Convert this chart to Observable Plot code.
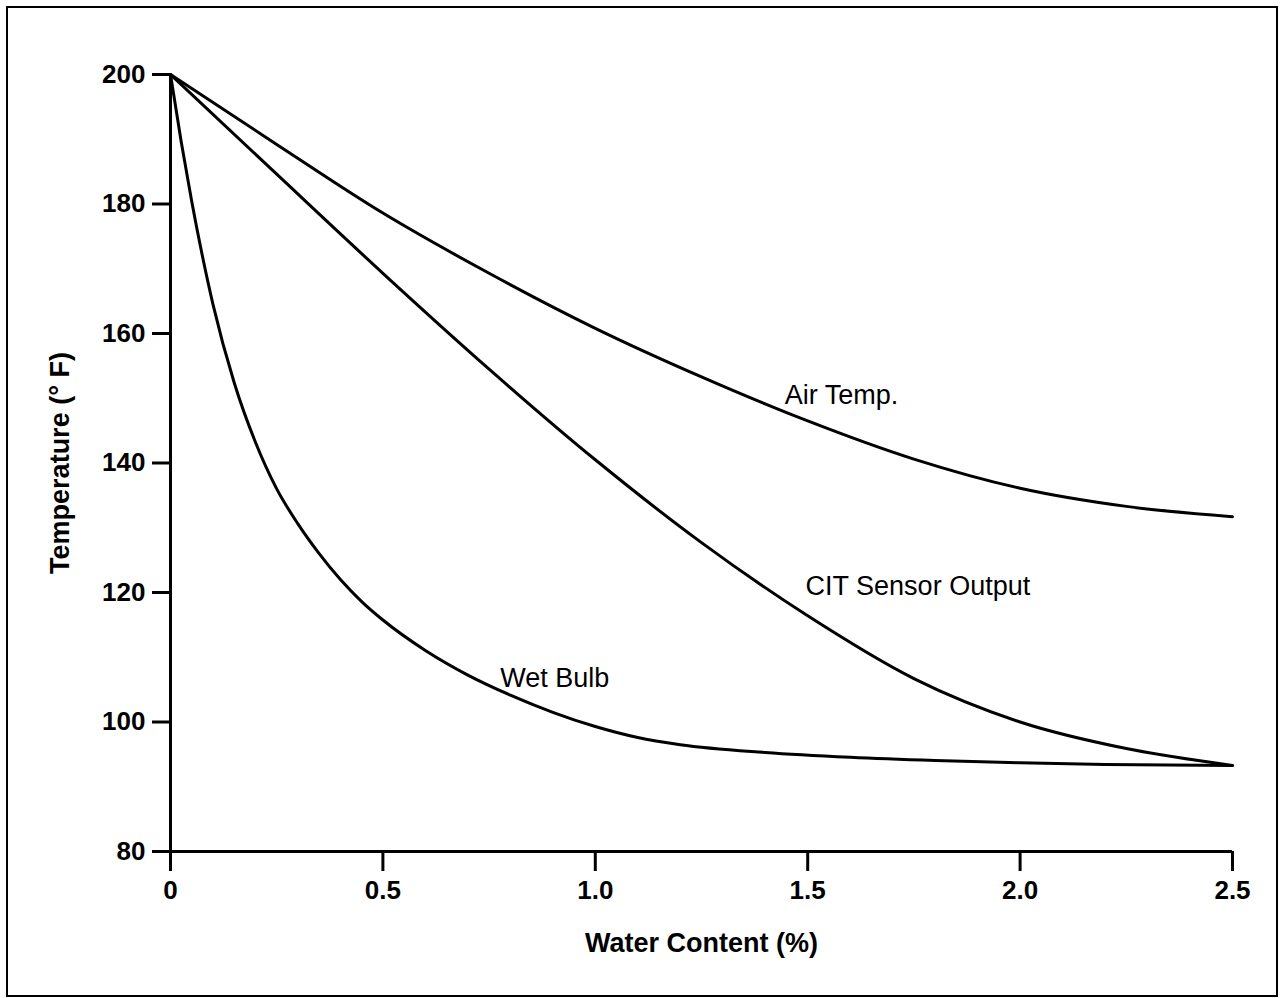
<!DOCTYPE html>
<html>
<head>
<meta charset="utf-8">
<script src="https://cdn.jsdelivr.net/npm/d3@7"></script>
<script src="https://cdn.jsdelivr.net/npm/@observablehq/plot@0.6"></script>
<style>
  html, body { margin: 0; padding: 0; background: #fff; }
  #wrap { position: relative; width: 1280px; height: 998px; overflow: hidden; }
  #border { position: absolute; left: 6px; top: 6px; width: 1268px; height: 987px; border: 2px solid #000; pointer-events: none; }
  svg { display: block; }
</style>
</head>
<body>
<div id="wrap"><div id="border"></div></div>
<script>
// Tick values / labels
const xTicks = [0, 0.5, 1.0, 1.5, 2.0, 2.5];
const xTickLabels = ["0", "0.5", "1.0", "1.5", "2.0", "2.5"];
const yTicks = [80, 100, 120, 140, 160, 180, 200];

// Air Temp.
const airWater = [0, 0.25, 0.5, 0.75, 1.0, 1.25, 1.5, 1.75, 2.0, 2.25, 2.5];
const airTemp  = [200, 189.2, 178.6, 169.3, 160.8, 153.3, 146.5, 140.6, 136.1, 133.3, 131.7];

// CIT Sensor Output
const citWater = [0, 0.25, 0.5, 0.75, 1.0, 1.25, 1.5, 1.75, 2.0, 2.25, 2.5];
const citTemp  = [200, 184.6, 169.3, 154.5, 140.5, 127.7, 116.4, 106.7, 100.0, 95.9, 93.3];

// Wet Bulb
const wetWater = [0, 0.025, 0.05, 0.075, 0.1, 0.15, 0.2, 0.25, 0.3, 0.35, 0.4, 0.45, 0.5, 0.6, 0.7, 0.8, 0.9, 1.0, 1.1, 1.2, 1.4, 1.6, 1.8, 2.0, 2.2, 2.5];
const wetTemp  = [200, 189.7, 180.4, 172.0, 164.5, 152.4, 143.2, 136.0, 130.6, 126.0, 122.0, 118.6, 115.75, 111.05, 107.25, 104.15, 101.5, 99.3, 97.6, 96.5, 95.3, 94.55, 94.05, 93.7, 93.45, 93.3];

// Curve labels
const labelNames = ["Air Temp.", "CIT Sensor Output", "Wet Bulb"];
const labelWater = [1.446, 1.495, 0.776];
const labelTemp  = [150.4, 120.9, 106.8];

const xTitle = "Water Content (%)";
const yTitle = "Temperature (° F)";

const series = [
  {name: "Air Temp.", xs: airWater, ys: airTemp},
  {name: "CIT Sensor Output", xs: citWater, ys: citTemp},
  {name: "Wet Bulb", xs: wetWater, ys: wetTemp}
];
const lineData = series.flatMap(s => s.xs.map((x, i) => ({series: s.name, water: x, temp: s.ys[i]})));
const labelData = labelNames.map((n, i) => ({name: n, water: labelWater[i], temp: labelTemp[i]}));

const FONT = "'Liberation Sans', Arial, Helvetica, sans-serif";

const chart = Plot.plot({
  width: 1280,
  height: 998,
  marginLeft: 170,
  marginRight: 48,
  marginTop: 74,
  marginBottom: 147,
  style: {fontFamily: FONT, background: "transparent", color: "#000"},
  x: {domain: [0, 2.5]},
  y: {domain: [80, 200]},
  marks: [
    Plot.axisX({
      ticks: xTicks,
      tickFormat: d => xTickLabels[xTicks.indexOf(d)],
      tickSize: 20,
      tickPadding: 9,
      strokeWidth: 3,
      fontSize: 26,
      fontWeight: "bold",
      label: null
    }),
    Plot.axisY({
      ticks: yTicks,
      tickSize: 18,
      tickPadding: 7,
      strokeWidth: 3,
      fontSize: 26,
      fontWeight: "bold",
      label: null
    }),
    Plot.ruleY([80], {stroke: "#000", strokeWidth: 3}),
    Plot.ruleX([0], {stroke: "#000", strokeWidth: 3}),
    Plot.line(lineData, {x: "water", y: "temp", z: "series", stroke: "#000", strokeWidth: 3, curve: "monotone-x"}),
    Plot.text(labelData, {x: "water", y: "temp", text: "name", textAnchor: "start", fontSize: 27, fill: "#000"}),
    Plot.text([xTitle], {frameAnchor: "bottom", lineAnchor: "middle", textAnchor: "middle", dy: 92, fontSize: 27, fontWeight: "bold", fill: "#000"}),
    Plot.text([yTitle], {frameAnchor: "left", lineAnchor: "middle", textAnchor: "middle", dx: -110, rotate: -90, fontSize: 27, fontWeight: "bold", fill: "#000"})
  ]
});
document.getElementById("wrap").prepend(chart);
</script>
</body>
</html>
